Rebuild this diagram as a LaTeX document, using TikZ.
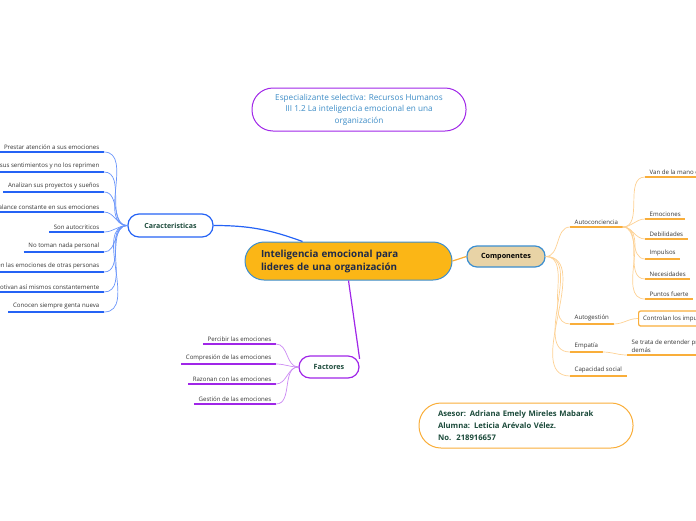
\documentclass[tikz,border=0pt]{standalone}
\usepackage{fontspec}
\setmainfont{Open Sans}
\usepackage{xcolor}
\definecolor{mapaAzul}{HTML}{2563F5}
\definecolor{mapaAzulClaro}{HTML}{6A95FA}
\definecolor{mapaMorado}{HTML}{A026E8}
\definecolor{mapaMoradoClaro}{HTML}{CB8AF3}
\definecolor{mapaNaranja}{HTML}{F9AE3A}
\definecolor{mapaNaranjaClaro}{HTML}{FDD193}
\definecolor{mapaOro}{HTML}{FBB616}
\definecolor{mapaBorde}{HTML}{3B8ED0}
\definecolor{mapaArena}{HTML}{E8D3A6}
\definecolor{mapaVerde}{HTML}{1B4A3A}
\definecolor{mapaNavy}{HTML}{1E2A4A}
\definecolor{mapaTexto}{HTML}{333333}
\definecolor{mapaTitulo}{HTML}{3D8CC6}
\tikzset{
  hoja/.style={font=\fontsize{6.1}{8}\selectfont, text=mapaTexto, inner xsep=4.5pt, inner ysep=2.5pt},
  subrayado/.style={append after command={\pgfextra{\let\hojanodo\tikzlastnode}
    (\hojanodo.south west) edge[draw=#1, line width=1.5pt] (\hojanodo.south east)}},
  rama/.style={line width=0.7pt, out=0, in=180},
}

\begin{document}
\begin{tikzpicture}[x=1pt, y=-1pt]
  \useasboundingbox (0,0) rectangle (696,520);
  \clip (0,0) rectangle (696,520);
  % titulo y datos
  \node[draw=mapaMorado, line width=1pt, rounded corners=21pt, minimum width=214pt, minimum height=43pt, text=mapaTitulo, align=center, font=\fontsize{8.2}{11.5}\selectfont] (titulo) at (359,109.5) {Especializante selectiva: Recursos Humanos\\III 1.2 La inteligencia emocional en una\\organización};
  \node[draw=mapaNaranja, line width=1pt, rounded corners=22pt, minimum width=214pt, minimum height=45pt, inner xsep=19pt, text width=176pt, align=left, text=mapaVerde, font=\bfseries\fontsize{7.7}{12}\selectfont] (datos) at (526,425.5) {Asesor: Adriana Emely Mireles Mabarak\\Alumna: Leticia Arévalo Vélez.\\No.\ \ 218916657};
  % nodos principales
  \node[draw=mapaBorde, fill=mapaOro, line width=1pt, rounded corners=19pt, minimum height=38pt, inner xsep=16pt, text width=175pt, align=left, text=mapaNavy, font=\bfseries\fontsize{9.8}{13}\selectfont] (centro) at (348.5,261) {Inteligencia emocional para\\lideres de una organización};
  \node[draw=mapaAzul, fill=white, line width=1.2pt, rounded corners=11pt, minimum width=85pt, minimum height=23pt, text=mapaVerde, font=\bfseries\fontsize{7}{8}\selectfont] (car) at (170.5,225.5) {Caracteristicas};
  \node[draw=mapaBorde, fill=mapaArena, line width=1.2pt, rounded corners=10pt, minimum width=78pt, minimum height=21pt, text=black, font=\bfseries\fontsize{7.2}{8}\selectfont] (comp) at (506,256.5) {Componentes};
  \node[draw=mapaMorado, fill=white, line width=1.2pt, rounded corners=11pt, minimum width=60pt, minimum height=22pt, text=mapaVerde, font=\bfseries\fontsize{7.2}{8}\selectfont] (fac) at (329,367) {Factores};
  \draw[mapaAzul, line width=1.2pt] (car.east) to[out=0, in=160] (centro.157);
  \draw[mapaNaranja, line width=1.2pt] (centro.east) -- (comp.west);
  \draw[mapaMorado, line width=1.2pt] (centro.south) -- (fac.15);
  % caracteristicas
  \node[hoja, subrayado=mapaAzul, anchor=south east] (c1) at (104,152) {Prestar atención a sus emociones};
  \node[hoja, subrayado=mapaAzul, anchor=south east] (c2) at (104,172) {sus sentimientos y no los reprimen};
  \node[hoja, subrayado=mapaAzul, anchor=south east] (c3) at (104,192) {Analizan sus proyectos y sueños};
  \node[hoja, subrayado=mapaAzul, anchor=south east] (c4) at (104,212) {balance constante en sus emociones};
  \node[hoja, subrayado=mapaAzul, anchor=south east] (c5) at (104,232) {Son autocriticos};
  \node[hoja, subrayado=mapaAzul, anchor=south east] (c6) at (104,252) {No toman nada personal};
  \node[hoja, subrayado=mapaAzul, anchor=south east] (c7) at (104,272) {en las emociones de otras personas};
  \node[hoja, subrayado=mapaAzul, anchor=south east] (c8) at (104,292) {motivan así mismos constantemente};
  \node[hoja, subrayado=mapaAzul, anchor=south east] (c9) at (104,312) {Conocen siempre genta nueva};
  \draw[mapaAzulClaro, rama] (c1.south east) to (car.west);
  \draw[mapaAzulClaro, rama] (c2.south east) to (car.west);
  \draw[mapaAzulClaro, rama] (c3.south east) to (car.west);
  \draw[mapaAzulClaro, rama] (c4.south east) to (car.west);
  \draw[mapaAzulClaro, rama] (c5.south east) to (car.west);
  \draw[mapaAzulClaro, rama] (c6.south east) to (car.west);
  \draw[mapaAzulClaro, rama] (c7.south east) to (car.west);
  \draw[mapaAzulClaro, rama] (c8.south east) to (car.west);
  \draw[mapaAzulClaro, rama] (c9.south east) to (car.west);
  % factores
  \node[hoja, subrayado=mapaMorado, anchor=south east] (f1) at (276,344) {Percibir las emociones};
  \node[hoja, subrayado=mapaMorado, anchor=south east] (f2) at (276,364) {Compresión de las emociones};
  \node[hoja, subrayado=mapaMorado, anchor=south east] (f3) at (276,384) {Razonan con las emociones};
  \node[hoja, subrayado=mapaMorado, anchor=south east] (f4) at (276,404) {Gestión de las emociones};
  \draw[mapaMoradoClaro, rama] (f1.south east) to (fac.west);
  \draw[mapaMoradoClaro, rama] (f2.south east) to (fac.west);
  \draw[mapaMoradoClaro, rama] (f3.south east) to (fac.west);
  \draw[mapaMoradoClaro, rama] (f4.south east) to (fac.west);
  % componentes
  \node[hoja, subrayado=mapaNaranja, anchor=south west] (auto) at (570,227) {Autoconciencia};
  \node[hoja, subrayado=mapaNaranja, anchor=south west] (autog) at (570,324) {Autogestión};
  \node[hoja, subrayado=mapaNaranja, anchor=south west] (emp) at (570,352) {Empatía};
  \node[hoja, subrayado=mapaNaranja, anchor=south west] (soc) at (570,376) {Capacidad social};
  \draw[mapaNaranjaClaro, rama] (comp.east) to (auto.south west);
  \draw[mapaNaranjaClaro, rama] (comp.east) to (autog.south west);
  \draw[mapaNaranjaClaro, rama] (comp.east) to (emp.south west);
  \draw[mapaNaranjaClaro, rama] (comp.east) to (soc.south west);
  \node[hoja, subrayado=mapaNaranja, anchor=south west] (a1) at (645,177) {Van de la mano con};
  \node[hoja, subrayado=mapaNaranja, anchor=south west] (a2) at (645,219) {Emociones};
  \node[hoja, subrayado=mapaNaranja, anchor=south west] (a3) at (645,239) {Debilidades};
  \node[hoja, subrayado=mapaNaranja, anchor=south west] (a4) at (645,259) {Impulsos};
  \node[hoja, subrayado=mapaNaranja, anchor=south west] (a5) at (645,279) {Necesidades};
  \node[hoja, subrayado=mapaNaranja, anchor=south west] (a6) at (645,299) {Puntos fuerte};
  \draw[mapaNaranjaClaro, rama] (auto.south east) to (a1.south west);
  \draw[mapaNaranjaClaro, rama] (auto.south east) to (a2.south west);
  \draw[mapaNaranjaClaro, rama] (auto.south east) to (a3.south west);
  \draw[mapaNaranjaClaro, rama] (auto.south east) to (a4.south west);
  \draw[mapaNaranjaClaro, rama] (auto.south east) to (a5.south west);
  \draw[mapaNaranjaClaro, rama] (auto.south east) to (a6.south west);
  \node[hoja, draw=mapaNaranja, line width=1.2pt, rounded corners=2pt, fill=white, anchor=west, minimum height=15pt] (impu) at (638,318.5) {Controlan los impulsos};
  \node[hoja, subrayado=mapaNaranja, anchor=south west, align=left] (trata) at (627,355) {Se trata de entender problemas de los\\demás};
  \draw[mapaNaranjaClaro, rama] (autog.south east) to (impu.west);
  \draw[mapaNaranjaClaro, rama] (emp.south east) to (trata.south west);
\end{tikzpicture}
\end{document}
